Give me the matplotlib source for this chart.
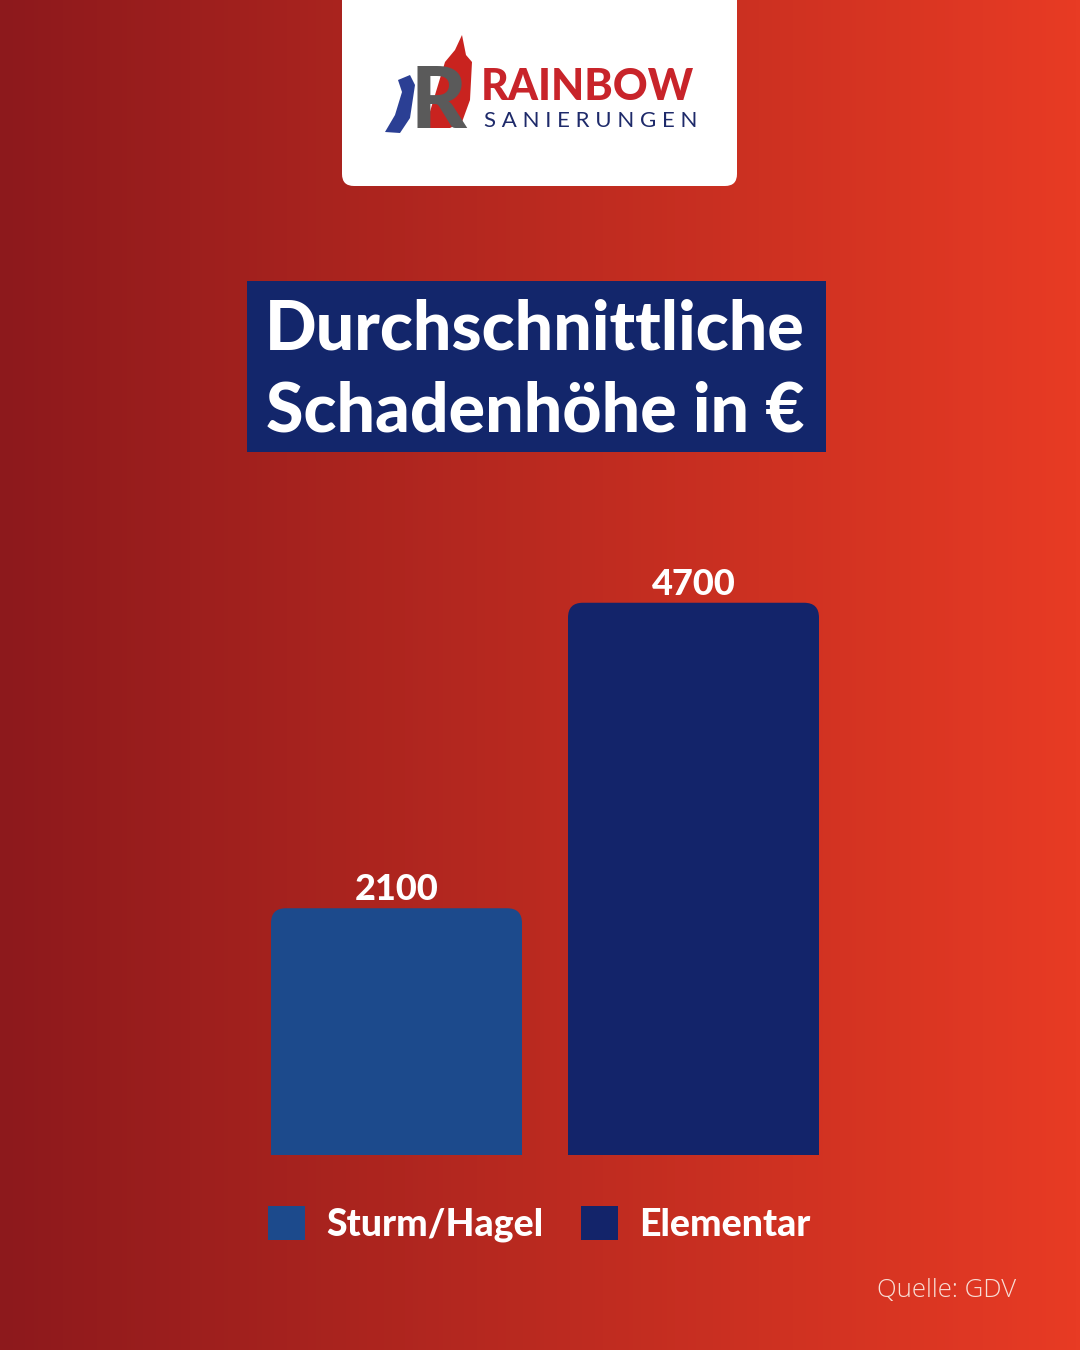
import numpy as np
import matplotlib
matplotlib.use('Agg')
import matplotlib.pyplot as plt
from matplotlib.patches import FancyBboxPatch, Patch, Polygon

categories = ['Sturm/Hagel', 'Elementar']
values = [2100, 4700]
bar_colors = ['#1c4a8c', '#13246a']
title_lines = ['Durchschnittliche', 'Schadenhöhe in €']
source = 'Quelle: GDV'

plt.rcParams['font.family'] = ['Lato', 'DejaVu Sans']

W, H = 1080, 1350
fig = plt.figure(figsize=(W / 100, H / 100), dpi=100)

# background in pixel coordinates
bg = fig.add_axes([0, 0, 1, 1])
bg.set_xlim(0, W)
bg.set_ylim(H, 0)
bg.axis('off')
c0 = np.array([0x8d, 0x19, 0x1c]) / 255
c1 = np.array([0xe8, 0x3b, 0x24]) / 255
t = np.linspace(0, 1, 256)
grad = (c0[None, :] * (1 - t[:, None]) + c1[None, :] * t[:, None])[None, :, :]
bg.imshow(grad, extent=(0, W, H, 0), aspect='auto', zorder=0)

# logo box
bg.add_patch(FancyBboxPatch((342, -30), 395, 216, boxstyle='round,pad=0,rounding_size=12',
                            fc='white', ec='none', zorder=1))
bg.add_patch(Polygon([(425, 128), (445, 62), (455, 50), (462, 35), (466, 55), (472, 62),
                      (470, 100), (462, 122), (450, 128)], closed=True, fc='#c9231f', ec='none', zorder=2))
bg.add_patch(Polygon([(385, 132), (395, 115), (402, 92), (398, 80), (410, 75), (415, 85),
                      (410, 118), (400, 133)], closed=True, fc='#2b3f94', ec='none', zorder=2))
bg.text(438, 128, 'R', fontsize=62, fontweight='black', color='#5a5a5a',
        ha='center', va='baseline', zorder=3)
bg.text(481, 100, 'RAINBOW', fontsize=31, fontweight='black', color='#c8242a',
        ha='left', va='baseline', zorder=3)
bg.text(484, 127, 'S A N I E R U N G E N', fontsize=16, color='#1e2a6a',
        ha='left', va='baseline', zorder=3)

# title box
bg.add_patch(plt.Rectangle((247, 281), 579, 171, fc='#13266b', ec='none', zorder=1))
for line, base in zip(title_lines, [350, 432]):
    bg.text(535, base, line, fontsize=49, fontweight='black', color='white',
            ha='center', va='baseline', zorder=3)

# source
bg.text(1016, 1297, source, fontsize=18.5, fontweight='light', color='#f8ddd5',
        family=['Open Sans', 'DejaVu Sans'], ha='right', va='baseline', zorder=3)

# chart
ax = fig.add_axes([240 / W, (H - 1155) / H, 610 / W, 655 / H])
ax.patch.set_alpha(0)
x = np.arange(len(values))
px_per_unit = 297.0
px_per_val = 0.1175
ax.set_xlim(-156.5 / px_per_unit, 1 + 156.5 / px_per_unit)
ax.set_ylim(0, 655 / px_per_val)
bars = ax.bar(x, values, width=251 / px_per_unit, color=bar_colors)
for b, v in zip(bars, values):
    ax.add_patch(FancyBboxPatch(b.get_xy(), b.get_width(), b.get_height(),
                                boxstyle='round,pad=0,rounding_size=0.05',
                                mutation_aspect=px_per_unit / px_per_val,
                                fc=b.get_facecolor(), ec='none'))
    b.set_height(b.get_height() / 2)
    ax.text(b.get_x() + b.get_width() / 2, v + 68, f'{v}', fontsize=26, fontweight='black',
            color='white', ha='center', va='baseline')
ax.axis('off')

handles = [Patch(fc=c, ec='none') for c in bar_colors]
fig.legend(handles, categories, loc='center', bbox_to_anchor=(539 / W, 1 - 1224 / H),
           ncol=2, frameon=False, prop={'size': 27, 'weight': 'black'}, labelcolor='white',
           handlelength=1.0, handleheight=1.0, handletextpad=0.55, columnspacing=1.0)

fig.savefig('out.png', dpi=100)
